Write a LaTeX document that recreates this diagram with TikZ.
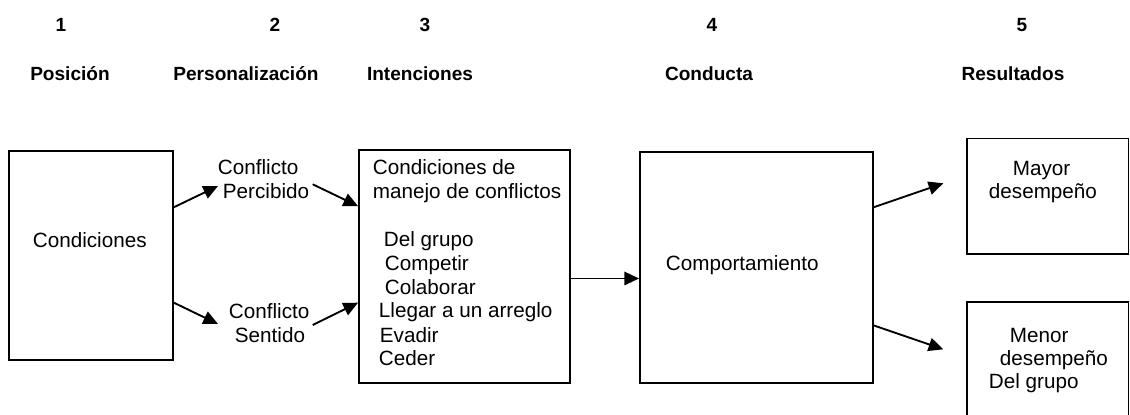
\documentclass[tikz,border=0pt]{standalone}
\usepackage{fontspec}
\setmainfont{Liberation Sans}
\usetikzlibrary{arrows.meta,calc}

\newcommand{\txt}{\fontsize{15.5pt}{18pt}\selectfont}
\newcommand{\hdr}{\fontsize{14.3pt}{17pt}\selectfont\bfseries}

\tikzset{every picture/.style={line width=1.4pt},
	caja/.style={draw, inner sep=0pt},
	flecha/.style={-{Triangle[length=11pt,width=10pt]}},
	lbl/.style={anchor=base west, inner sep=0pt, font=\txt},
	cab/.style={anchor=base, inner sep=0pt, font=\hdr}}

\begin{document}
\begin{tikzpicture}[x=0.75pt,y=0.75pt,yscale=-1]
	\useasboundingbox (0,0) rectangle (1130,414);
	\clip (0,0) rectangle (1130,414);
	
	% Header numbers
	\draw (61,31.7) node (n1) [cab] {1};
	\draw (275,31.7) node (n2) [cab] {2};
	\draw (425,31.7) node (n3) [cab] {3};
	\draw (712,31.7) node (n4) [cab] {4};
	\draw (1022,31.7) node (n5) [cab] {5};
	% Header titles
	\draw (70,80) node (h1) [cab] {Posición};
	\draw (246,80) node (h2) [cab] {Personalización};
	\draw (420,80) node (h3) [cab] {Intenciones};
	\draw (709,80) node (h4) [cab] {Conducta};
	\draw (1013,80) node (h5) [cab] {Resultados};
	
	%Shape: Rectangle [cond]
	\draw (91,255.5) node (cond) [caja, minimum width=123pt, minimum height=156.75pt] {};
	%Shape: Rectangle [inten]
	\draw (464.5,266.5) node (inten) [caja, minimum width=158.25pt, minimum height=174.75pt] {};
	%Shape: Rectangle [comport]
	\draw (756.5,267.5) node (comport) [caja, minimum width=174.75pt, minimum height=173.25pt] {};
	%Shape: Rectangle [mayor]
	\draw (1047.75,196.25) node (mayor) [caja, minimum width=121.1pt, minimum height=86.6pt] {};
	%Shape: Rectangle [menor]
	\draw (1047.75,371) node (menor) [caja, minimum width=121.1pt, minimum height=103.5pt] {};
	
	% Free arrow ends
	\coordinate (perc-in) at (218,186);
	\coordinate (perc-out) at (312.7,184.3);
	\coordinate (sent-in) at (218,324);
	\coordinate (sent-out) at (312.7,325);
	\coordinate (may-in) at (943.3,183.3);
	\coordinate (men-in) at (943.3,349.3);
	\coordinate (int-out) at ($(inten.north east)!0.551!(inten.south east)$);
	
	%Arrows
	\draw [flecha] ($(cond.north east)!0.271!(cond.south east)$) -- (perc-in);
	\draw [flecha] ($(cond.north east)!0.724!(cond.south east)$) -- (sent-in);
	\draw [flecha] (perc-out) -- ($(inten.north west)!0.243!(inten.south west)$);
	\draw [flecha] (sent-out) -- ($(inten.north west)!0.654!(inten.south west)$);
	\draw [flecha] (int-out) -- (int-out -| comport.west);
	\draw [flecha] ($(comport.north east)!0.241!(comport.south east)$) -- (may-in);
	\draw [flecha] ($(comport.north east)!0.749!(comport.south east)$) -- (men-in);
	
	% Text Node
	\draw (32,247) node (t-cond) [lbl] {Condiciones};
	% Text Node
	\draw (217,174) node (t-perc1) [lbl] {Conflicto};
	\draw (222,198) node (t-perc2) [lbl] {Percibido};
	% Text Node
	\draw (228,318) node (t-sent1) [lbl] {Conflicto};
	\draw (234,342) node (t-sent2) [lbl] {Sentido};
	% Text Node
	\draw (372,174) node (t-int1) [lbl] {Condiciones de};
	\draw (372,198) node (t-int2) [lbl] {manejo de conflictos};
	\draw (383,246) node (t-int3) [lbl] {Del grupo};
	\draw (384,270) node (t-int4) [lbl] {Competir};
	\draw (384,294) node (t-int5) [lbl] {Colaborar};
	\draw (378,317) node (t-int6) [lbl] {Llegar a un arreglo};
	\draw (379,342) node (t-int7) [lbl] {Evadir};
	\draw (378,365) node (t-int8) [lbl] {Ceder};
	% Text Node
	\draw (665,270) node (t-comp) [lbl] {Comportamiento};
	% Text Node
	\draw (1012,175) node (t-may1) [lbl] {Mayor};
	\draw (988,198) node (t-may2) [lbl] {desempeño};
	% Text Node
	\draw (1009,342) node (t-men1) [lbl] {Menor};
	\draw (999,365) node (t-men2) [lbl] {desempeño};
	\draw (988,388) node (t-men3) [lbl] {Del grupo};
	
\end{tikzpicture}
\end{document}
